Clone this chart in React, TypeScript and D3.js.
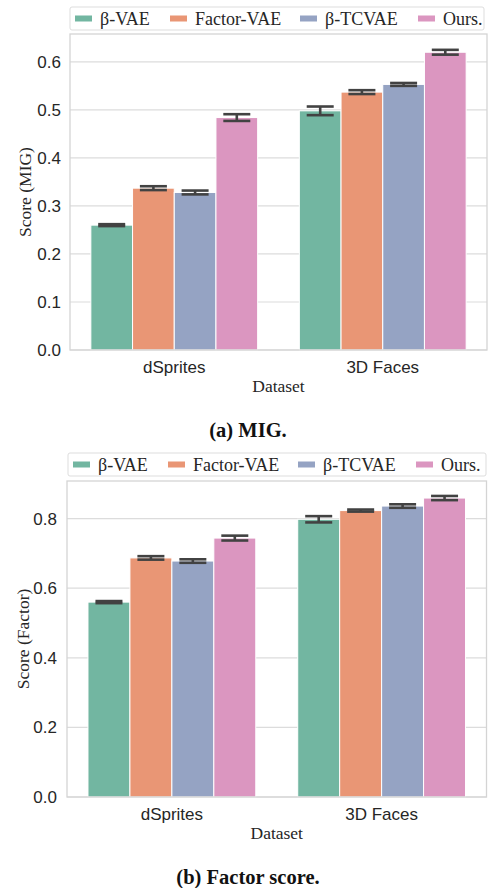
import * as d3 from 'd3';

const datasets = ['dSprites', '3D Faces'];
const methods = ['β-VAE', 'Factor-VAE', 'β-TCVAE', 'Ours.'];
const colors = ['#72b6a1', '#e99675', '#95a3c3', '#db96c0'];

// MIG scores, one array per dataset (order = methods)
const migDSprites = [0.260, 0.337, 0.328, 0.484];
const migDSpritesErr = [0.002, 0.004, 0.004, 0.007];
const mig3DFaces = [0.498, 0.537, 0.553, 0.620];
const mig3DFacesErr = [0.009, 0.004, 0.003, 0.005];
const migTicks = [0, 0.1, 0.2, 0.3, 0.4, 0.5, 0.6];

// Factor scores
const factorDSprites = [0.560, 0.687, 0.678, 0.744];
const factorDSpritesErr = [0.003, 0.005, 0.005, 0.007];
const factor3DFaces = [0.798, 0.823, 0.836, 0.859];
const factor3DFacesErr = [0.009, 0.003, 0.005, 0.006];
const factorTicks = [0, 0.2, 0.4, 0.6, 0.8];

const SANS = '"Liberation Sans", Arial, sans-serif';
const SERIF = '"Liberation Serif", "Times New Roman", serif';
const legendOffsets = [5, 100, 230, 348];

type PanelProps = {
  values: number[][];
  errors: number[][];
  ticks: number[];
  yMax: number;
  box: { left: number; right: number; top: number; bottom: number };
  legendY: number;
  legendBox: { x0: number; x1: number };
  tickEnd: number;
  yLabel: string;
  yLabelX: number;
  caption: string;
};

function Panel({ values, errors, ticks, yMax, box, legendY, legendBox, tickEnd, yLabel, yLabelX, caption }: PanelProps) {
  const x0 = d3.scaleBand().domain(datasets).range([box.left, box.right]).paddingInner(0.2).paddingOuter(0.1);
  const x1 = d3.scaleBand().domain(methods).range([0, x0.bandwidth()]);
  const y = d3.scaleLinear().domain([0, yMax]).range([box.bottom, box.top]);
  const fmt = d3.format('.1f');
  const capW = 27;

  return (
    <g>
      {/* legend */}
      <rect x={legendBox.x0} y={legendY} width={legendBox.x1 - legendBox.x0} height={23} rx={2}
        fill="#fff" stroke="#dddddd" strokeWidth={1} />
      {methods.map((m, i) => (
        <g key={m} transform={`translate(${legendBox.x0 + legendOffsets[i]},${legendY + 11.5})`}>
          <rect x={0} y={-3} width={17} height={6} fill={colors[i]} />
          <text x={25} dy="0.34em" fontFamily={SERIF} fontSize={18} fill="#262626">{m}</text>
        </g>
      ))}

      {/* grid */}
      {ticks.map(t => (
        <line key={t} x1={box.left} x2={box.right} y1={y(t)} y2={y(t)} stroke="#dcdcdc" strokeWidth={1.2} />
      ))}
      {ticks.map(t => (
        <text key={'l' + t} x={tickEnd} y={y(t)} dy="0.35em" textAnchor="end"
          fontFamily={SANS} fontSize={17} fill="#262626">{fmt(t)}</text>
      ))}

      {/* bars */}
      {datasets.map((ds, di) => (
        <g key={ds} transform={`translate(${x0(ds)},0)`}>
          {methods.map((m, mi) => (
            <rect key={m} x={x1(m)} y={y(values[di][mi])} width={x1.bandwidth()}
              height={y(0) - y(values[di][mi])} fill={colors[mi]} stroke="#fff" strokeWidth={1} />
          ))}
          {methods.map((m, mi) => {
            const cx = (x1(m) as number) + x1.bandwidth() / 2;
            const v = values[di][mi];
            const e = errors[di][mi];
            return (
              <g key={'e' + m} stroke="#424242" strokeWidth={2.6}>
                <line x1={cx} x2={cx} y1={y(v - e)} y2={y(v + e)} />
                <line x1={cx - capW / 2} x2={cx + capW / 2} y1={y(v - e)} y2={y(v - e)} />
                <line x1={cx - capW / 2} x2={cx + capW / 2} y1={y(v + e)} y2={y(v + e)} />
              </g>
            );
          })}
        </g>
      ))}

      {/* frame */}
      <rect x={box.left} y={box.top} width={box.right - box.left} height={box.bottom - box.top}
        fill="none" stroke="#d4d4d4" strokeWidth={1.3} />

      {/* x labels */}
      {datasets.map(ds => (
        <text key={ds} x={(x0(ds) as number) + x0.bandwidth() / 2} y={box.bottom + 23} textAnchor="middle"
          fontFamily={SANS} fontSize={17} fill="#262626">{ds}</text>
      ))}
      <text x={(box.left + box.right) / 2} y={box.bottom + 42} textAnchor="middle"
        fontFamily={SERIF} fontSize={17.5} fill="#262626">Dataset</text>
      <text transform={`translate(${yLabelX},${(box.top + box.bottom) / 2}) rotate(-90)`} dy="0.35em"
        textAnchor="middle" fontFamily={SERIF} fontSize={17.5} fill="#262626">{yLabel}</text>
      <text x={248} y={box.bottom + 87} textAnchor="middle" fontFamily={SERIF} fontWeight="bold"
        fontSize={20.5} fill="#111">{caption}</text>
    </g>
  );
}

export default function App() {
  return (
    <div style={{ position: 'absolute', left: 0, top: 0, width: 488, height: 888, background: '#fff' }}>
      <svg width={488} height={888}>
        <Panel
          values={[migDSprites, mig3DFaces]}
          errors={[migDSpritesErr, mig3DFacesErr]}
          ticks={migTicks}
          yMax={0.658}
          box={{ left: 70, right: 487, top: 34, bottom: 350 }}
          legendY={7}
          legendBox={{ x0: 70, x1: 484 }}
          tickEnd={61}
          yLabel="Score (MIG)"
          yLabelX={25}
          caption="(a) MIG."
        />
        <Panel
          values={[factorDSprites, factor3DFaces]}
          errors={[factorDSpritesErr, factor3DFacesErr]}
          ticks={factorTicks}
          yMax={0.908}
          box={{ left: 67, right: 486.5, top: 481, bottom: 797 }}
          legendY={453}
          legendBox={{ x0: 68, x1: 486 }}
          tickEnd={57}
          yLabel="Score (Factor)"
          yLabelX={23}
          caption="(b) Factor score."
        />
      </svg>
    </div>
  );
}
